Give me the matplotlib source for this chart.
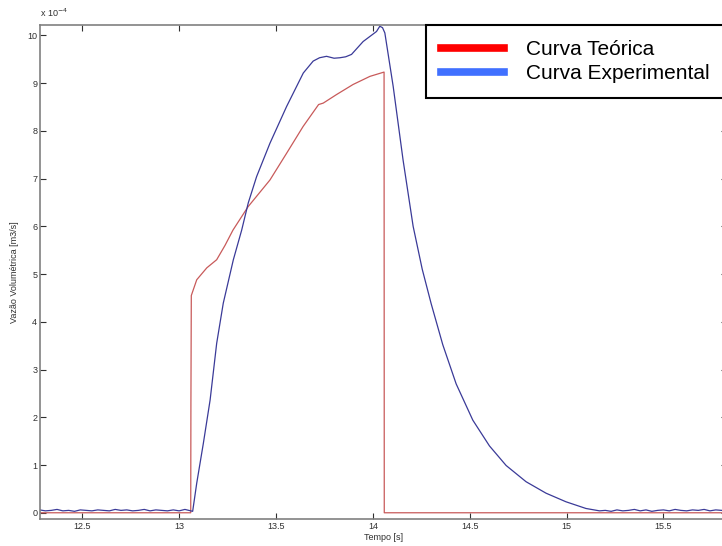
import matplotlib
matplotlib.use("Agg")
import matplotlib.pyplot as plt
from matplotlib.lines import Line2D

plt.rcParams["font.family"] = ["Liberation Sans", "DejaVu Sans"]

# vazao em unidades de 1e-4 m3/s
teo_t = [12.28, 13.06, 13.061, 13.063, 13.091, 13.143, 13.194, 13.237, 13.278,
         13.356, 13.469, 13.555, 13.64, 13.72, 13.744, 13.813, 13.898, 13.985,
         14.058, 14.059, 15.83]
teo_q = [0.0, 0.0, 2.3, 4.55, 4.88, 5.13, 5.30, 5.60, 5.92,
         6.41, 6.97, 7.53, 8.09, 8.55, 8.58, 8.76, 8.97, 9.14,
         9.23, 0.0, 0.0]

exp_t = [12.28, 12.31, 12.34, 12.37, 12.40, 12.43, 12.46, 12.49, 12.52, 12.55,
         12.58, 12.61, 12.64, 12.67, 12.70, 12.73, 12.76, 12.79, 12.82, 12.85,
         12.88, 12.91, 12.94, 12.97, 13.00, 13.03, 13.05, 13.07,
         13.091, 13.125, 13.16, 13.194, 13.228, 13.28, 13.323, 13.357, 13.40,
         13.469, 13.555, 13.641, 13.692, 13.725, 13.761, 13.80, 13.83, 13.86,
         13.89, 13.95, 14.019, 14.036, 14.05, 14.062, 14.105, 14.156, 14.208,
         14.255, 14.301, 14.361, 14.430, 14.516, 14.602, 14.688, 14.791, 14.894,
         14.997, 15.10, 15.17,
         15.20, 15.23, 15.26, 15.29, 15.32, 15.35, 15.38, 15.41, 15.44, 15.47,
         15.50, 15.53, 15.56, 15.59, 15.62, 15.65, 15.68, 15.71, 15.74, 15.77,
         15.80, 15.83]
exp_q = [0.06, 0.04, 0.05, 0.07, 0.04, 0.05, 0.03, 0.06, 0.05, 0.04,
         0.06, 0.05, 0.04, 0.07, 0.05, 0.06, 0.04, 0.05, 0.07, 0.04,
         0.06, 0.05, 0.04, 0.06, 0.04, 0.07, 0.05, 0.03,
         0.62, 1.45, 2.36, 3.55, 4.39, 5.30, 5.92, 6.49, 7.04,
         7.74, 8.51, 9.21, 9.46, 9.53, 9.56, 9.52, 9.53, 9.55,
         9.60, 9.87, 10.08, 10.19, 10.16, 10.05, 8.93, 7.39, 6.00,
         5.10, 4.38, 3.52, 2.70, 1.94, 1.40, 0.99, 0.65, 0.41,
         0.23, 0.09, 0.04,
         0.05, 0.03, 0.06, 0.04, 0.05, 0.07, 0.04, 0.06, 0.03, 0.05,
         0.06, 0.04, 0.07, 0.05, 0.04, 0.06, 0.05, 0.07, 0.04, 0.06,
         0.05, 0.06]

x_ticks = [12.5, 13, 13.5, 14, 14.5, 15, 15.5]
x_labels = ["12.5", "13", "13.5", "14", "14.5", "15", "15.5"]
y_ticks = list(range(0, 11))

fig = plt.figure(figsize=(7.22, 5.46), dpi=100)
ax = fig.add_axes([0.0554, 0.0488, 0.9515, 0.9049])

ax.plot(teo_t, teo_q, color="#c85a5a", linewidth=0.9)
ax.plot(exp_t, exp_q, color="#3a3a98", linewidth=0.9)

ax.set_xlim(12.282, 15.828)
ax.set_ylim(-0.138, 10.21)
ax.set_xticks(x_ticks)
ax.set_xticklabels(x_labels)
ax.set_yticks(y_ticks)

for s in ax.spines.values():
    s.set_color("#808080")
    s.set_linewidth(1.2)
ax.tick_params(direction="in", length=4.5, width=0.8, color="#303030",
               top=True, right=True, labelsize=6.5, labelcolor="#303030", pad=2)

ax.set_xlabel("Tempo [s]", fontsize=6.5, color="#303030", labelpad=1)
ax.set_ylabel("Vazão Volumétrica [m3/s]", fontsize=6.5, color="#303030", labelpad=6)
ax.text(0.0, 1.012, r"x 10$^{-4}$", transform=ax.transAxes, fontsize=6.5,
        color="#303030", ha="left", va="bottom")

handles = [Line2D([], [], color="#ff0000", linewidth=5.5),
           Line2D([], [], color="#4070ff", linewidth=5.5)]
leg = ax.legend(handles, ["Curva Teórica", "Curva Experimental"],
                loc="upper left", bbox_to_anchor=(0.5625, 0.70, 0.5, 0.30),
                mode="expand", borderaxespad=0, fontsize=15, fancybox=False,
                handlelength=3.0, handletextpad=1.05, labelspacing=0.25,
                borderpad=0.72, framealpha=1)
leg.get_frame().set_edgecolor("black")
leg.get_frame().set_linewidth(1.5)

plt.savefig("out.png", dpi=100)
plt.close(fig)
